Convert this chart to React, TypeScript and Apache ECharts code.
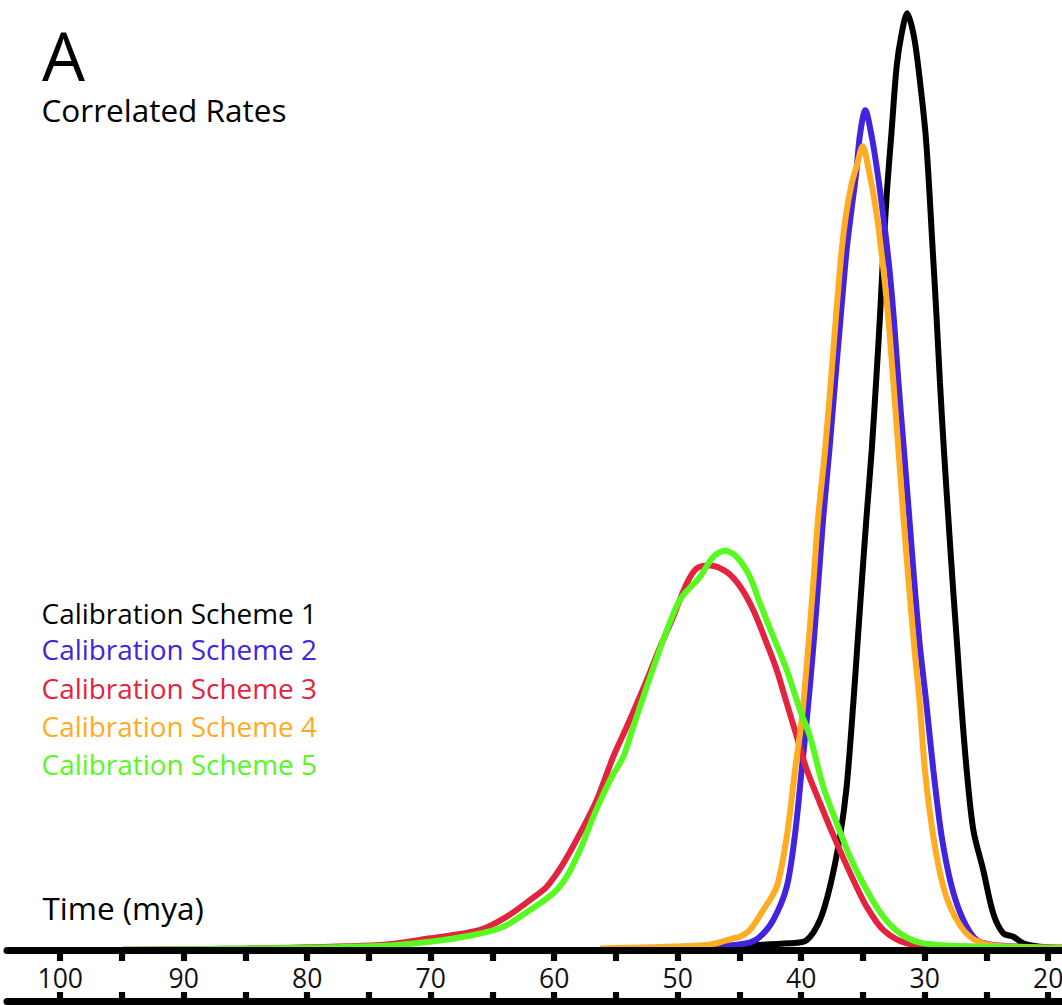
import React, { useEffect, useRef } from "react";
import * as echarts from "echarts";

// Time (mya) and posterior density (relative units, 0-100) for each calibration scheme
const scheme1Time = [56.29, 48.19, 40.91, 39.55, 38.48, 37.67, 36.86, 36.32, 35.78, 35.46, 35.1, 34.71, 34.29, 33.94, 33.62, 33.34, 33.05, 32.69, 32.27, 31.86, 31.41, 30.92, 30.52, 29.89, 29.35, 29.04, 28.76, 28.44, 28.09, 27.73, 27.36, 27.06, 26.6, 26.06, 25.26, 24.45, 23.64, 22.83, 22.02, 20.66, 18.88];
const scheme1Density = [0.08, 0.35, 0.74, 1.08, 3.19, 6.69, 11.95, 17.2, 26.0, 31.9, 38.6, 45.6, 52.6, 59.7, 66.7, 73.7, 80.0, 86.0, 93.0, 96.5, 98.6, 96.5, 93.0, 85.3, 73.7, 66.7, 59.7, 52.6, 45.6, 38.6, 31.9, 26.3, 18.97, 12.66, 8.45, 3.89, 1.79, 1.43, 0.74, 0.38, 0.24];

const scheme2Time = [56.29, 48.19, 44.41, 43.34, 42.26, 41.17, 40.5, 39.96, 39.55, 39.02, 38.62, 38.21, 37.72, 37.26, 36.8, 36.32, 35.93, 35.56, 35.24, 34.81, 34.27, 33.74, 33.26, 32.85, 32.49, 32.12, 31.68, 31.25, 30.83, 30.38, 29.89, 29.3, 28.62, 27.81, 26.87, 25.79, 24.45, 22.04, 18.88];
const scheme2Density = [0.1, 0.29, 0.74, 1.43, 3.19, 6.69, 12.2, 18.97, 24.2, 31.9, 38.6, 45.6, 52.6, 59.7, 66.7, 73.7, 77.9, 81.6, 85.8, 88.4, 85.5, 81.1, 76.3, 71.6, 66.3, 59.7, 52.6, 45.6, 38.6, 31.9, 26.3, 18.97, 11.95, 6.69, 3.19, 1.08, 0.56, 0.38, 0.29];

const scheme3Time = [95, 85, 74.1, 70.06, 66.01, 63.85, 61.96, 60.61, 59.26, 57.91, 56.56, 55.21, 54.13, 52.51, 51.43, 50.36, 49.27, 48.46, 47.38, 46.03, 44.96, 43.88, 42.79, 41.98, 41.17, 40.36, 39.55, 38.48, 37.13, 35.78, 34.7, 33.35, 31.46, 28.76, 23.36, 18.88];
const scheme3Density = [0.05, 0.2, 0.56, 1.26, 2.14, 3.54, 5.29, 6.69, 9.15, 12.3, 15.8, 20.4, 23.5, 28.4, 31.9, 35.1, 38.6, 40.2, 40.5, 39.8, 38.3, 35.8, 32.3, 29.5, 26.0, 22.5, 19.0, 15.5, 11.3, 7.4, 4.59, 2.14, 0.74, 0.45, 0.32, 0.2];

const scheme4Time = [56.29, 49.0, 47.12, 45.5, 44.96, 44.15, 43.07, 41.98, 41.17, 40.5, 39.96, 39.43, 39.02, 38.62, 38.07, 37.61, 37.18, 36.72, 36.37, 35.91, 35.51, 35.02, 34.51, 33.94, 33.42, 32.93, 32.53, 32.12, 31.72, 31.29, 30.84, 30.42, 29.98, 29.3, 28.49, 27.55, 26.33, 24.71, 22.55, 18.88];
const scheme4Density = [0.19, 0.45, 0.66, 1.26, 1.43, 2.14, 4.24, 6.69, 11.95, 18.97, 24.2, 31.9, 38.6, 45.6, 52.6, 59.7, 66.7, 73.7, 77.4, 80.7, 82.5, 84.6, 82.0, 77.9, 72.6, 66.3, 59.7, 52.6, 45.6, 38.6, 31.9, 26.3, 18.97, 11.95, 6.69, 3.54, 1.43, 0.56, 0.38, 0.29];

const scheme5Time = [95, 85, 74.1, 70.06, 66.55, 64.12, 61.96, 60.07, 58.99, 57.91, 56.83, 55.48, 54.4, 53.6, 52.51, 51.17, 49.81, 48.19, 47.12, 46.17, 45.22, 44.15, 43.34, 42.26, 41.17, 40.1, 39.29, 38.21, 37.13, 36.05, 34.7, 33.35, 32.0, 30.38, 27.41, 23.36, 18.88];
const scheme5Density = [0.05, 0.18, 0.45, 0.9, 1.61, 2.48, 4.24, 6.0, 7.75, 10.55, 14.06, 17.9, 20.4, 23.5, 27.7, 32.65, 36.9, 39.3, 41.4, 42.05, 41.4, 39.3, 36.5, 33.0, 29.5, 25.3, 22.5, 17.2, 13.4, 9.85, 6.35, 3.54, 1.79, 0.8, 0.45, 0.32, 0.2];

const schemeNames = ["Calibration Scheme 1", "Calibration Scheme 2", "Calibration Scheme 3", "Calibration Scheme 4", "Calibration Scheme 5"];
const schemeColors = ["#000000", "#4322E0", "#E4233F", "#FFAC22", "#57F91F"];

const tickValues = [20, 25, 30, 35, 40, 45, 50, 55, 60, 65, 70, 75, 80, 85, 90, 95, 100];
const labelValues = [20, 30, 40, 50, 60, 70, 80, 90, 100];

const FONT = "'Open Sans', 'Noto Sans', sans-serif";

function pairs(t: number[], d: number[]) {
  return t.map((x, i) => [x, d[i]]);
}

export default function App() {
  const ref = useRef<HTMLDivElement>(null);
  useEffect(() => {
    if (!ref.current) return;
    const chart = echarts.init(ref.current, undefined, { renderer: "svg" });
    const times = [scheme1Time, scheme2Time, scheme3Time, scheme4Time, scheme5Time];
    const dens = [scheme1Density, scheme2Density, scheme3Density, scheme4Density, scheme5Density];
    const xMin = 18.88;
    const xMax = 104.31;
    const legendY = [613.3, 649.3, 688.3, 726.3, 764.3];
    chart.setOption({
      animation: false,
      backgroundColor: "#ffffff",
      grid: [
        { left: 7, right: 0, top: 0, bottom: 54.7, containLabel: false, outerBoundsMode: "none" },
        { left: 7, right: 0, top: 960, bottom: 3.3, containLabel: false, outerBoundsMode: "none" },
      ],
      xAxis: [
        {
          type: "value",
          gridIndex: 0,
          min: xMin,
          max: xMax,
          inverse: true,
          axisLine: { show: true, onZero: false, lineStyle: { color: "#000", width: 7 } },
          axisTick: { show: true, customValues: tickValues, length: 10.7, lineStyle: { color: "#000", width: 6.2 } },
          axisLabel: { show: true, customValues: labelValues, fontSize: 26.5, color: "#111", fontFamily: FONT, margin: 14, hideOverlap: false },
          splitLine: { show: false },
          z: 10,
        },
        {
          type: "value",
          gridIndex: 1,
          min: xMin,
          max: xMax,
          inverse: true,
          position: "bottom",
          axisLine: { show: true, onZero: false, lineStyle: { color: "#000", width: 7 } },
          axisTick: { show: true, inside: true, customValues: tickValues, length: 9.7, lineStyle: { color: "#000", width: 6.2 } },
          axisLabel: { show: false },
          splitLine: { show: false },
        },
      ],
      yAxis: [
        { type: "value", gridIndex: 0, min: 0, max: 100, show: false },
        { type: "value", gridIndex: 1, min: 0, max: 1, show: false },
      ],
      series: times.map((t, i) => ({
        name: schemeNames[i],
        type: "line",
        xAxisIndex: 0,
        yAxisIndex: 0,
        data: pairs(t, dens[i]),
        smooth: 0.3,
        showSymbol: false,
        symbol: "none",
        lineStyle: { color: schemeColors[i], width: 6 },
        z: 2 + i,
      })),
      graphic: [
        { type: "text", x: 42, y: 54.5, style: { text: "A", font: `68px ${FONT}`, fill: "#000", verticalAlign: "middle", lineHeight: 56 } },
        { type: "text", x: 41.5, y: 109.4, style: { text: "Correlated Rates", font: `31.5px ${FONT}`, fill: "#000", verticalAlign: "middle" } },
        { type: "text", x: 42.5, y: 907.7, style: { text: "Time (mya)", font: `31.5px ${FONT}`, fill: "#000", verticalAlign: "middle" } },
        ...schemeNames.map((n, i) => ({
          type: "text",
          x: 41.6,
          y: legendY[i],
          style: { text: n, font: `27.9px ${FONT}`, fill: schemeColors[i], verticalAlign: "middle" },
        })),
      ],
    });
    return () => chart.dispose();
  }, []);
  return (
    <div
      ref={ref}
      style={{ position: "absolute", left: 0, top: 0, width: 1062, height: 1005, background: "#fff" }}
    />
  );
}
